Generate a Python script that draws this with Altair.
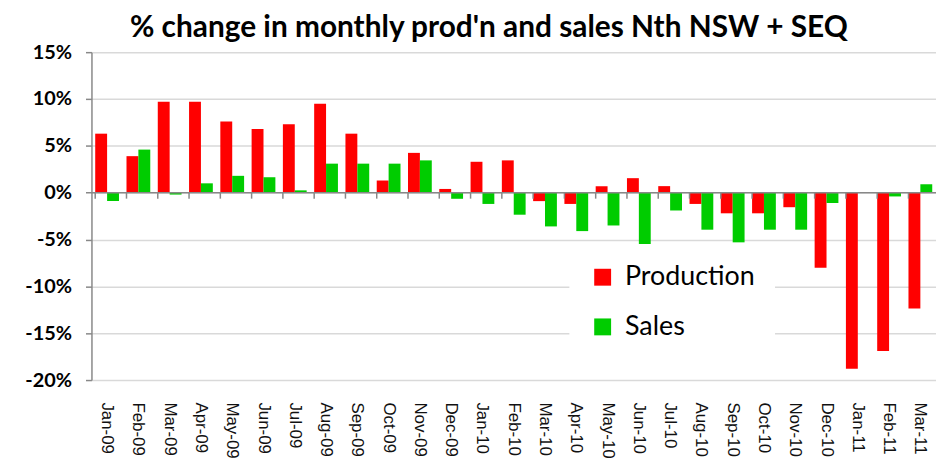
import altair as alt
import pandas as pd

months = ["Jan-09", "Feb-09", "Mar-09", "Apr-09", "May-09", "Jun-09", "Jul-09",
          "Aug-09", "Sep-09", "Oct-09", "Nov-09", "Dec-09", "Jan-10", "Feb-10",
          "Mar-10", "Apr-10", "May-10", "Jun-10", "Jul-10", "Aug-10", "Sep-10",
          "Oct-10", "Nov-10", "Dec-10", "Jan-11", "Feb-11", "Mar-11"]
production = [6.3, 3.9, 9.7, 9.7, 7.6, 6.8, 7.3, 9.5, 6.3, 1.3, 4.25, 0.4,
              3.3, 3.45, -0.9, -1.2, 0.7, 1.55, 0.7, -1.2, -2.2, -2.2, -1.55,
              -8.0, -18.8, -16.9, -12.35]
sales = [-0.9, 4.6, -0.2, 1.0, 1.8, 1.65, 0.25, 3.1, 3.1, 3.1, 3.45, -0.65,
         -1.2, -2.35, -3.6, -4.1, -3.5, -5.6, -1.9, -3.95, -5.3, -3.95, -3.95,
         -1.1, 0.0, -0.4, 0.9]
series = ["Production", "Sales"]
colors = ["#ff0000", "#00cc00"]
y_ticks = [-20, -15, -10, -5, 0, 5, 10, 15]
title_text = "% change in monthly prod'n and sales Nth NSW + SEQ"

df = pd.DataFrame({
    "month": months * 2,
    "series": [series[0]] * len(months) + [series[1]] * len(months),
    "value": production + sales,
})
df_months = pd.DataFrame({"month": months})
df_zero = pd.DataFrame({"v": [0]})

xscale = alt.Scale(domain=months, paddingInner=0.24, paddingOuter=0.12)
yscale = alt.Scale(domain=[-20, 15], nice=False, zero=False)
xaxis = alt.Axis(title=None, ticks=False, domain=False, grid=False,
                 labelAngle=90, labelAlign="left", labelBaseline="middle",
                 labelFont="Liberation Sans", labelFontSize=17,
                 labelColor="#111111", labelPadding=22)

bars = alt.Chart(df).mark_bar().encode(
    x=alt.X("month:N", sort=months, scale=xscale, axis=xaxis),
    xOffset=alt.XOffset("series:N", sort=series,
                        scale=alt.Scale(domain=series, paddingInner=0, paddingOuter=0)),
    y=alt.Y("value:Q", scale=yscale,
            axis=alt.Axis(title=None, values=y_ticks, labelExpr="datum.value + '%'",
                          grid=True, gridColor="#d9d9d9", gridWidth=1.5,
                          domainColor="#888888", domainWidth=1.5,
                          tickColor="#888888", tickSize=6, tickWidth=1.5,
                          labelFont="Lato", labelFontWeight="bold", labelFontSize=20,
                          labelColor="#000000", labelPadding=14)),
    color=alt.Color("series:N",
                    scale=alt.Scale(domain=series, range=colors),
                    legend=alt.Legend(title=None, orient="none", legendX=481, legendY=193,
                                      fillColor="white", padding=20,
                                      symbolType="square", symbolSize=289,
                                      symbolStrokeWidth=0, labelFont="Lato",
                                      labelFontSize=27, labelColor="#000000",
                                      rowPadding=22, labelOffset=9)),
)

zero_line = alt.Chart(df_zero).mark_rule(color="#888888", strokeWidth=1.5).encode(
    y=alt.Y("v:Q", scale=yscale)
)

ticks = alt.Chart(df_months).mark_rule(color="#888888", strokeWidth=1.5, y2Offset=6).encode(
    x=alt.X("month:N", sort=months, scale=xscale, bandPosition=0, axis=xaxis),
    y=alt.datum(0),
    y2=alt.datum(0),
)

chart = alt.layer(bars, zero_line, ticks).properties(
    width=850,
    height=330,
    title=alt.TitleParams(title_text, font="Lato", fontSize=30, fontWeight="bold",
                          color="#000000", anchor="middle", dx=-25, dy=11, offset=10),
    autosize=alt.AutoSizeParams(type="none"),
    padding={"left": 84, "top": 43, "right": 0, "bottom": 78},
).configure_view(strokeWidth=0)

chart.save("out.html", embed_options={"renderer": "svg", "actions": False})
